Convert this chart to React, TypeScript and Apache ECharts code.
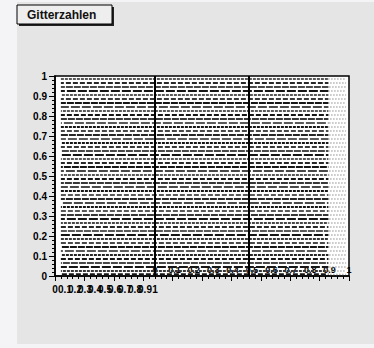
import React, { useEffect, useRef } from "react";
import * as echarts from "echarts";

const titleText = "Gitterzahlen";
const yTicks = [0, 0.1, 0.2, 0.3, 0.4, 0.5, 0.6, 0.7, 0.8, 0.9, 1];
// y positions of the lattice rows
const rowsY = [
  0.985, 0.965, 0.945, 0.925, 0.905, 0.885, 0.865, 0.845, 0.825, 0.805,
  0.785, 0.765, 0.745, 0.725, 0.705, 0.685, 0.665, 0.645, 0.625, 0.605,
  0.585, 0.565, 0.545, 0.525, 0.505, 0.485, 0.465, 0.445, 0.425, 0.405,
  0.385, 0.365, 0.345, 0.325, 0.305, 0.285, 0.265, 0.245, 0.225, 0.205,
  0.185, 0.165, 0.145, 0.125, 0.105, 0.085, 0.065, 0.045, 0.025, 0.008,
];
// darkness of each row (0 light .. 1 dark)
const rowShade = [
  0.5, 0.8, 0.6, 0.9, 0.5, 0.7, 0.9, 0.6, 0.5, 0.9,
  0.7, 0.5, 0.9, 0.6, 0.8, 0.5, 0.9, 0.7, 0.6, 0.9,
  0.5, 0.8, 0.9, 0.6, 0.5, 0.9, 0.7, 0.6, 0.9, 0.5,
  0.8, 0.6, 0.9, 0.5, 0.7, 0.9, 0.6, 0.8, 0.5, 0.9,
  0.7, 0.6, 0.9, 0.5, 0.8, 0.9, 0.6, 0.9, 0.7, 0.9,
];
const rowStart = 0.02;
const rowDenseEnd = 0.93;
const rowEnd = 0.99;
const dividers = [0.34, 0.66];

function shadeColor(s: number) {
  const v = Math.round(175 - s * 170);
  return `rgb(${v},${v},${v})`;
}

export default function App() {
  const ref = useRef<HTMLDivElement>(null);
  useEffect(() => {
    if (!ref.current) return;
    const chart = echarts.init(ref.current, undefined, { renderer: "svg" });
    const font = "Liberation Sans, Arial, sans-serif";
    const series: any[] = [];
    rowsY.forEach((y, i) => {
      series.push({
        type: "line",
        xAxisIndex: 0,
        yAxisIndex: 0,
        data: [
          [rowStart, y],
          [rowDenseEnd, y],
        ],
        symbol: "none",
        silent: true,
        lineStyle: {
          color: shadeColor(rowShade[i]),
          width: 2.2,
          type: [3 + (i % 4) * 2, 1 + (i % 2)],
          dashOffset: i * 1.7,
        },
      });
      series.push({
        type: "line",
        xAxisIndex: 0,
        yAxisIndex: 0,
        data: [
          [rowDenseEnd, y],
          [rowEnd, y],
        ],
        symbol: "none",
        silent: true,
        lineStyle: { color: "#8a8a8a", width: 1.5, type: [1, 2], dashOffset: i },
      });
    });
    series.push({
      type: "line",
      xAxisIndex: 0,
      yAxisIndex: 0,
      data: [],
      silent: true,
      markLine: {
        symbol: "none",
        silent: true,
        label: { show: false },
        lineStyle: { color: "#000", width: 2, type: "solid" },
        data: dividers.map((x) => ({ xAxis: x })),
      },
    });
    series.push({ type: "scatter", xAxisIndex: 1, yAxisIndex: 1, data: [] });
    series.push({ type: "scatter", xAxisIndex: 2, yAxisIndex: 2, data: [] });

    chart.setOption({
      animation: false,
      backgroundColor: "#f4f4f6",
      graphic: [
        { type: "rect", shape: { x: 17, y: 2, width: 357, height: 342 }, style: { fill: "#e5e5e5" }, z: -10 },
        { type: "rect", shape: { x: 19, y: 7, width: 95, height: 19 }, style: { fill: "#222" } },
        { type: "rect", shape: { x: 17, y: 5, width: 95, height: 19 }, style: { fill: "#eeeeee", stroke: "#000", lineWidth: 1 } },
        {
          type: "text",
          x: 27,
          y: 15,
          style: { text: titleText, font: `bold 12px ${font}`, fill: "#111", verticalAlign: "middle" },
        },
      ],
      grid: [
        { left: 55, top: 76, width: 294, height: 200, show: true, backgroundColor: "#fff", borderColor: "#000", borderWidth: 1.5 },
        { left: 55, top: 76, width: 100, height: 200 },
        { left: 155, top: 76, width: 194, height: 200 },
      ],
      xAxis: [
        {
          type: "value", gridIndex: 0, min: 0, max: 1, interval: 0.1,
          axisLine: { show: true, lineStyle: { color: "#000", width: 1.5 } },
          axisTick: { show: true, length: 5, lineStyle: { color: "#000" } },
          minorTick: { show: true, splitNumber: 5, length: 3, lineStyle: { color: "#000" } },
          axisLabel: { show: false },
          splitLine: { show: false },
        },
        {
          type: "value", gridIndex: 1, min: 0, max: 1, interval: 0.1,
          axisLine: { show: false }, axisTick: { show: false }, splitLine: { show: false },
          axisLabel: { show: true, color: "#000", fontWeight: "bold", fontSize: 10, fontFamily: font, margin: 8 },
        },
        {
          type: "value", gridIndex: 2, min: 0, max: 1, interval: 0.1,
          axisLine: { show: false }, axisTick: { show: false }, splitLine: { show: false },
          axisLabel: { show: true, inside: true, color: "#000", fontWeight: "bold", fontSize: 9, fontFamily: font, margin: 2 },
        },
      ],
      yAxis: [
        {
          type: "value", gridIndex: 0, min: yTicks[0], max: yTicks[yTicks.length - 1], interval: 0.1,
          axisLine: { show: true, lineStyle: { color: "#000", width: 1.5 } },
          axisTick: { show: true, length: 6, lineStyle: { color: "#000" } },
          minorTick: { show: true, splitNumber: 5, length: 3, lineStyle: { color: "#000" } },
          axisLabel: { show: true, color: "#000", fontWeight: "bold", fontSize: 10, fontFamily: font, margin: 8 },
          splitLine: { show: false },
        },
        { type: "value", gridIndex: 1, min: 0, max: 1, show: false },
        { type: "value", gridIndex: 2, min: 0, max: 1, show: false },
      ],
      series,
    });
    return () => chart.dispose();
  }, []);
  return (
    <div
      ref={ref}
      style={{ position: "fixed", left: 0, top: 0, width: 374, height: 348 }}
    />
  );
}
